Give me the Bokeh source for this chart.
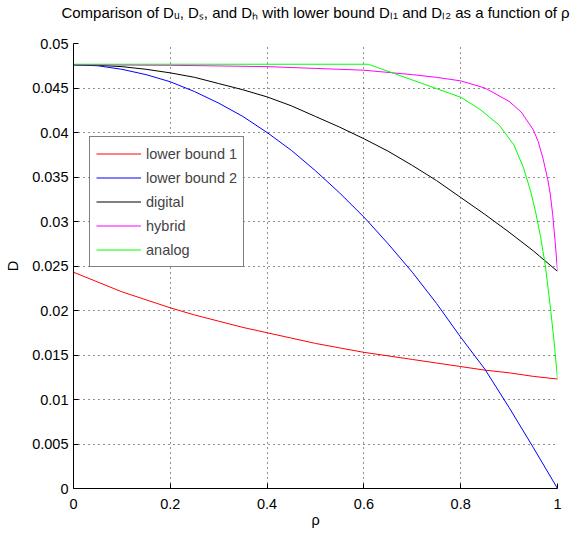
from bokeh.plotting import figure
from bokeh.models import Range1d, FixedTicker, Legend, LegendItem, LinearAxis
from bokeh.embed import file_html
from bokeh.resources import INLINE

# ---- data ----
rho_lb1 = [0, 0.05, 0.1, 0.15, 0.2, 0.25, 0.3, 0.35, 0.4, 0.45, 0.5, 0.55, 0.6, 0.65, 0.7, 0.75, 0.8,
           0.85, 0.9, 0.95, 1.0]
d_lb1 = [0.0243, 0.0232, 0.0221, 0.0212, 0.0203, 0.0195, 0.0188, 0.0181, 0.0175, 0.0169, 0.0163, 0.0158,
         0.0153, 0.0149, 0.0145, 0.0141, 0.0137, 0.0133, 0.0130, 0.0126, 0.0123]

rho_lb2 = [0, 0.05, 0.1, 0.15, 0.2, 0.25, 0.3, 0.35, 0.4, 0.45, 0.5, 0.55, 0.6, 0.65, 0.7, 0.75, 0.8,
           0.85, 0.9, 0.95, 1.0]
d_lb2 = [0.0476, 0.0475, 0.0471, 0.0465, 0.0457, 0.0446, 0.0433, 0.0418, 0.0400, 0.0380, 0.0357, 0.0332,
         0.0305, 0.0275, 0.0243, 0.0208, 0.0170, 0.0134, 0.0091, 0.0046, 0.0]

rho_dig = [0, 0.05, 0.1, 0.15, 0.2, 0.25, 0.3, 0.35, 0.4, 0.45, 0.5, 0.55, 0.6, 0.65, 0.7, 0.75, 0.8,
           0.85, 0.9, 0.95, 1.0]
d_dig = [0.0476, 0.04755, 0.0474, 0.0471, 0.0467, 0.0462, 0.0455, 0.0448, 0.0440, 0.0430, 0.0418, 0.0406,
         0.0393, 0.0379, 0.0363, 0.0346, 0.0327, 0.0308, 0.0288, 0.0267, 0.0244]

rho_hyb = [0, 0.1, 0.2, 0.3, 0.4, 0.5, 0.6, 0.7, 0.75, 0.8, 0.85, 0.9, 0.925, 0.95, 0.96, 0.97, 0.98,
           0.985, 0.99, 0.995, 1.0]
d_hyb = [0.0476, 0.04758, 0.04755, 0.04748, 0.0474, 0.0472, 0.0470, 0.0465, 0.0462, 0.0458, 0.0450,
         0.0435, 0.0423, 0.0403, 0.0390, 0.0371, 0.0347, 0.0331, 0.0308, 0.0278, 0.0245]

rho_ana = [0, 0.609, 0.8, 0.84, 0.88, 0.91, 0.93, 0.945, 0.955, 0.965, 0.975, 0.985, 0.993, 1.0]
d_ana = [0.04767, 0.04767, 0.04396, 0.0426, 0.0408, 0.0386, 0.0360, 0.0333, 0.0310, 0.0283, 0.0250,
         0.0205, 0.0165, 0.0123]

series_names = ["lower bound 1", "lower bound 2", "digital", "hybrid", "analog"]
series_colors = ["#ff0000", "#0000ff", "#000000", "#ff00ff", "#00ff00"]

x_ticks = [0, 0.2, 0.4, 0.6, 0.8, 1.0]
x_tick_labels = ["0", "0.2", "0.4", "0.6", "0.8", "1"]
y_ticks = [0, 0.005, 0.01, 0.015, 0.02, 0.025, 0.03, 0.035, 0.04, 0.045, 0.05]
y_tick_labels = ["0", "0.005", "0.01", "0.015", "0.02", "0.025", "0.03", "0.035", "0.04", "0.045", "0.05"]

title_text = "Comparison of Dᵤ, Dₛ, and Dₕ with lower bound Dₗ₁ and Dₗ₂ as a function of ρ"
x_label = "ρ"
y_label = "D"

FONT = "Liberation Sans"
FS = "14.5px"
FW, FH = 484, 445

p = figure(frame_width=FW, frame_height=FH, output_backend="svg", toolbar_location=None,
           x_range=Range1d(0, 1), y_range=Range1d(0, 0.05),
           min_border_left=73, min_border_right=16, min_border_top=43, min_border_bottom=45)
p.background_fill_color = "white"
p.border_fill_color = "white"
p.outline_line_color = None

for ax, ticks, labels in ((p.xaxis[0], x_ticks, x_tick_labels), (p.yaxis[0], y_ticks, y_tick_labels)):
    ax.ticker = FixedTicker(ticks=ticks)
    ax.major_label_overrides = {t: l for t, l in zip(ticks, labels)}
    ax.major_label_text_font = FONT
    ax.major_label_text_font_size = FS
    ax.major_tick_in = 5
    ax.major_tick_out = 0
    ax.minor_tick_in = 0
    ax.minor_tick_out = 0
    ax.axis_line_color = "black"
    ax.major_tick_line_color = "black"
    ax.major_label_text_color = "black"
    ax.axis_label_text_font = FONT
    ax.axis_label_text_font_size = FS
    ax.axis_label_text_font_style = "normal"
    ax.axis_label_text_color = "black"

p.xaxis.major_label_standoff = 10
p.xaxis.axis_label = x_label
p.xaxis.axis_label_standoff = 0
p.yaxis.major_label_standoff = 5
p.yaxis.axis_label = y_label
p.yaxis.axis_label_standoff = 8

# title drawn as the label of a bare axis above the frame
top_axis = LinearAxis(ticker=FixedTicker(ticks=[]), axis_label=title_text,
                      axis_line_color=None, major_tick_in=0, major_tick_out=0,
                      minor_tick_in=0, minor_tick_out=0, major_label_standoff=0,
                      axis_label_standoff=23, axis_label_text_font=FONT,
                      axis_label_text_font_size="15px", axis_label_text_font_style="normal",
                      axis_label_text_color="black")
p.add_layout(top_axis, "above")

p.xgrid.ticker = FixedTicker(ticks=x_ticks)
p.ygrid.ticker = FixedTicker(ticks=y_ticks)
for g in (p.xgrid[0], p.ygrid[0]):
    g.grid_line_color = "#222222"
    g.grid_line_dash = "1 4"
    g.grid_line_width = 1

xs = [rho_lb1, rho_lb2, rho_dig, rho_hyb, rho_ana]
ys = [d_lb1, d_lb2, d_dig, d_hyb, d_ana]
items = []
for x, y, name, c in zip(xs, ys, series_names, series_colors):
    r = p.line(x, y, line_color=c, line_width=1)
    items.append(LegendItem(label=name, renderers=[r]))

legend = Legend(items=items, location=(16, 221))
legend.label_text_font = FONT
legend.label_text_font_size = FS
legend.glyph_width = 45
legend.glyph_height = 21
legend.label_height = 21
legend.label_standoff = 5
legend.spacing = 3
legend.padding = 6
legend.margin = 0
legend.border_line_color = "black"
legend.border_line_width = 1
legend.background_fill_color = "white"
legend.background_fill_alpha = 1
p.add_layout(legend, "center")

open("out.html", "w").write(file_html(p, INLINE))
